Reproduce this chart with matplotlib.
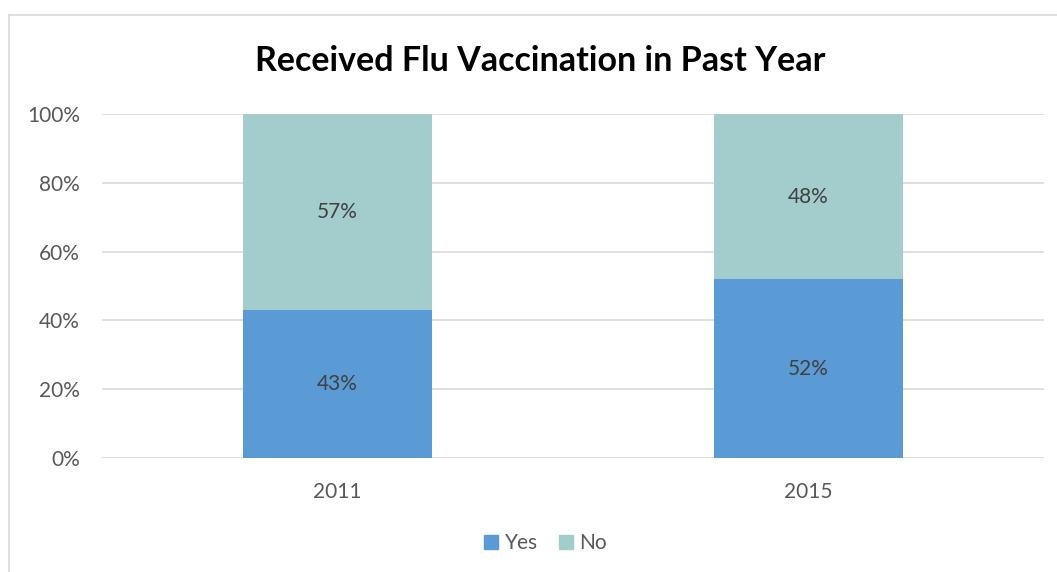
import numpy as np
import matplotlib.pyplot as plt
from matplotlib.lines import Line2D
from matplotlib.patches import Patch

plt.rcParams['font.family'] = ['Lato', 'DejaVu Sans']

years = ['2011', '2015']
yes = [43, 52]
no = [57, 48]
series_names = ['Yes', 'No']
colors = ['#5B9BD5', '#A2CDCC']

fig = plt.figure(figsize=(10.57, 5.72), dpi=100)
ax = fig.add_axes([0.0965, 0.1993, 0.8912, 0.6014])

x = np.arange(len(years))
ax.bar(x, yes, width=0.4, color=colors[0], zorder=2)
ax.bar(x, no, width=0.4, bottom=yes, color=colors[1], zorder=2)

for i in range(len(years)):
    ax.text(x[i], yes[i] / 2, f'{yes[i]}%', ha='center', va='center',
            fontsize=15, color='#404040', zorder=3)
    ax.text(x[i], yes[i] + no[i] / 2, f'{no[i]}%', ha='center', va='center',
            fontsize=15, color='#404040', zorder=3)

ax.set_xlim(-0.5, 1.5)
ax.set_ylim(0, 100)
ax.set_yticks(range(0, 101, 20))
ax.set_yticklabels([f'{v}%' for v in range(0, 101, 20)])
ax.set_xticks(x)
ax.set_xticklabels(years)
ax.tick_params(length=0, labelsize=15, labelcolor='#595959')
ax.tick_params(axis='y', pad=16)
ax.tick_params(axis='x', pad=17)
ax.grid(axis='y', color='#D9D9D9', linewidth=1.2, zorder=0)
for s in ax.spines.values():
    s.set_visible(False)

fig.text(0.511, 0.893, 'Received Flu Vaccination in Past Year', ha='center', va='center',
         fontsize=24.5, fontweight='bold', color='black')

handles = [Patch(color=c) for c in colors]
fig.legend(handles, series_names, loc='center', bbox_to_anchor=(0.516, 0.05), ncol=2,
           frameon=False, fontsize=15, labelcolor='#595959', handlelength=0.7,
           handleheight=0.7, handletextpad=0.3, columnspacing=1.0)

# chart border (left and top visible)
fig.add_artist(Line2D([9 / 1057, 9 / 1057], [0, 1 - 15 / 572], transform=fig.transFigure,
                      color='#D9D9D9', linewidth=1.2))
fig.add_artist(Line2D([9 / 1057, 1], [1 - 15 / 572, 1 - 15 / 572], transform=fig.transFigure,
                      color='#D9D9D9', linewidth=1.2))

fig.savefig('out.png', dpi=100)
